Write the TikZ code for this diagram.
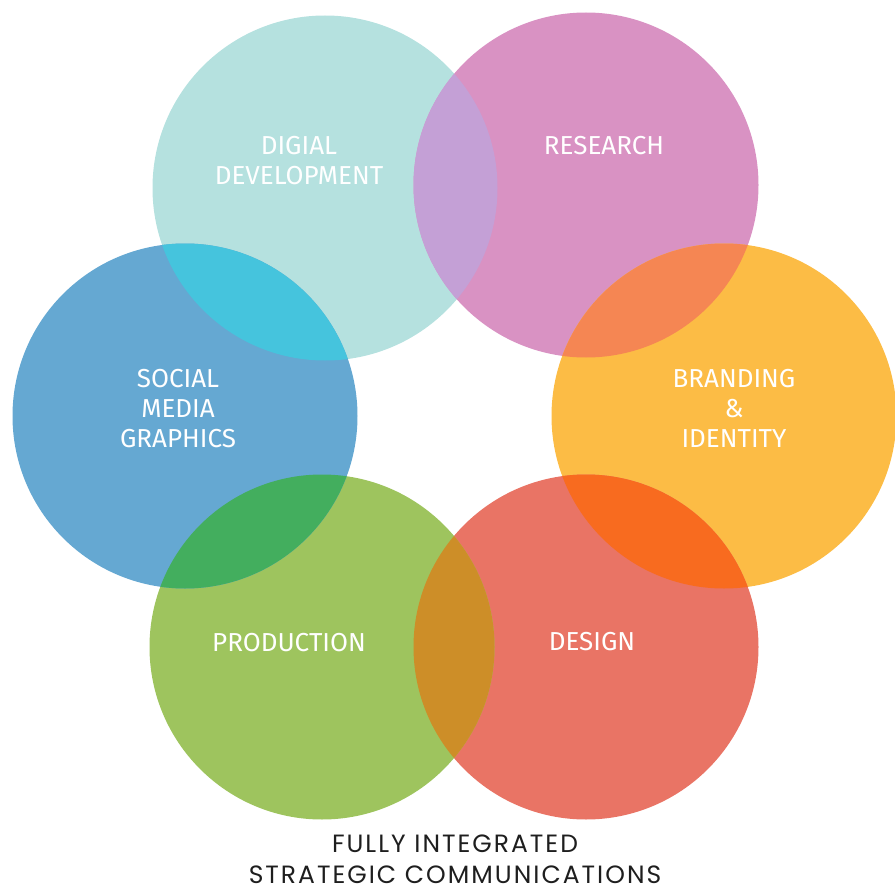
\documentclass[tikz,border=0pt]{standalone}
\usepackage{fontspec}
\setmainfont{Fira Sans}
\newfontfamily\captionfont[LetterSpace=8]{Poppins}
\definecolor{cDig}{HTML}{B5E1DF}
\definecolor{cRes}{HTML}{D992C3}
\definecolor{cBra}{HTML}{FCBC45}
\definecolor{cDes}{HTML}{E97465}
\definecolor{cPro}{HTML}{9EC45E}
\definecolor{cSoc}{HTML}{65A8D2}
\definecolor{oDR}{HTML}{C4A0D6}
\definecolor{oSD}{HTML}{45C4DD}
\definecolor{oRB}{HTML}{F58653}
\definecolor{oBD}{HTML}{F86B1F}
\definecolor{oDP}{HTML}{CD8E28}
\definecolor{oSP}{HTML}{43AE5E}
\definecolor{capcol}{HTML}{1E1E1E}
\tikzset{
  lbl/.style={text=white, align=center, inner sep=0pt, font=\fontsize{26}{30}\selectfont},
  capt/.style={text=capcol, align=center, inner sep=0pt, font=\captionfont\fontsize{25}{31}\selectfont},
}
\newcommand{\rr}{172.5}
\begin{document}
\begin{tikzpicture}[x=1pt,y=-1pt]
\useasboundingbox (0,0) rectangle (895,891);
\coordinate (cD) at (325,188);
\coordinate (cR) at (586,185);
\coordinate (cB) at (724,416);
\coordinate (cE) at (586,647);
\coordinate (cP) at (322,647);
\coordinate (cS) at (185,416);
% base circles
\fill[cDig] (cD) circle[radius=\rr];
\fill[cRes] (cR) circle[radius=\rr];
\fill[cBra] (cB) circle[radius=\rr];
\fill[cDes] (cE) circle[radius=\rr];
\fill[cPro] (cP) circle[radius=\rr];
\fill[cSoc] (cS) circle[radius=\rr];
% overlaps
\begin{scope}\clip (cD) circle[radius=\rr]; \fill[oDR] (cR) circle[radius=\rr];\end{scope}
\begin{scope}\clip (cS) circle[radius=\rr]; \fill[oSD] (cD) circle[radius=\rr];\end{scope}
\begin{scope}\clip (cR) circle[radius=\rr]; \fill[oRB] (cB) circle[radius=\rr];\end{scope}
\begin{scope}\clip (cB) circle[radius=\rr]; \fill[oBD] (cE) circle[radius=\rr];\end{scope}
\begin{scope}\clip (cE) circle[radius=\rr]; \fill[oDP] (cP) circle[radius=\rr];\end{scope}
\begin{scope}\clip (cS) circle[radius=\rr]; \fill[oSP] (cP) circle[radius=\rr];\end{scope}
% labels
\node[lbl] (tD) at (299,161) {DIGIAL\\DEVELOPMENT};
\node[lbl] (tR) at (604,146) {RESEARCH};
\node[lbl] (tB) at (734,408) {BRANDING\\\&\\IDENTITY};
\node[lbl] (tS) at (178,409) {SOCIAL\\MEDIA\\GRAPHICS};
\node[lbl] (tP) at (289,643) {PRODUCTION};
\node[lbl] (tE) at (592,642) {DESIGN};
\node[capt] (tC) at (455,859) {FULLY INTEGRATED\\STRATEGIC COMMUNICATIONS};
\end{tikzpicture}
\end{document}
